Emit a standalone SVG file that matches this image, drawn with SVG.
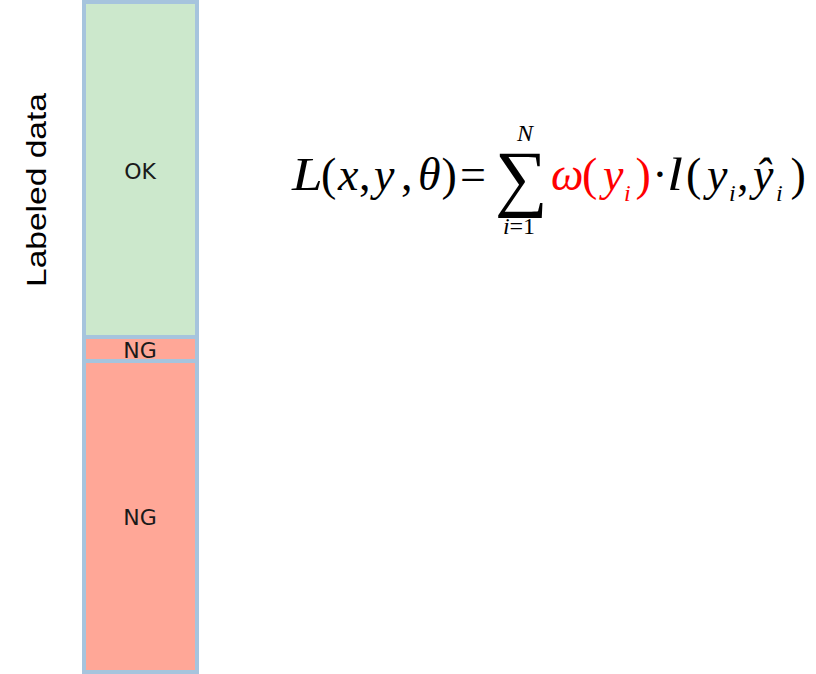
<svg xmlns="http://www.w3.org/2000/svg" width="816" height="674" viewBox="0 0 816 674">
<style>
.box{stroke:#a6c4dd;stroke-width:4}
.lbl{font-family:"DejaVu Sans",sans-serif;font-size:22px;fill:#1a1a1a;text-anchor:middle}
.m{font-family:"Liberation Serif",serif;font-style:italic;font-size:46px;fill:#000}
.p{font-family:"Liberation Serif",serif;font-size:46px;fill:#000}
.s{font-family:"Liberation Serif",serif;font-style:italic;font-size:24px;fill:#000}
.r{fill:#ff0000}
</style>
<rect width="816" height="674" fill="#fff"/>
<g id="ok">
<rect class="box" x="84" y="2" width="113" height="335" fill="#cce8cc"/>
<text class="lbl" x="140" y="179">OK</text>
</g>
<g id="ng-small">
<rect class="box" x="84" y="337" width="113" height="24" fill="#ffa797"/>
<text class="lbl" x="140" y="358">NG</text>
</g>
<g id="ng-big">
<rect class="box" x="84" y="361" width="113" height="311" fill="#ffa797"/>
<text class="lbl" x="140" y="525">NG</text>
</g>
<g id="axis-label">
<text x="0" y="0" transform="translate(46,190) rotate(-90)" text-anchor="middle" font-family="Liberation Sans, Arial, sans-serif" font-size="28" textLength="194" lengthAdjust="spacingAndGlyphs" fill="#000">Labeled data</text>
</g>
<g id="formula">
<text class="m" x="0" y="0" font-size="44" transform="translate(292,190) scale(1.2,1)">L</text>
<text class="p" x="321" y="190">(</text>
<text class="m" x="338" y="190">x</text>
<text class="p" x="359" y="190">,</text>
<text class="m" x="374" y="190">y</text>
<text class="p" x="401" y="190">,</text>
<text class="m" x="418" y="190">θ</text>
<text class="p" x="441.5" y="190">)</text>
<text class="p" x="460" y="190" font-size="52">=</text>
<text x="495" y="202" font-family="Liberation Serif, serif" font-size="74" fill="#000">∑</text>
<text class="s" x="525" y="141" text-anchor="middle">N</text>
<text class="s" x="519" y="234" text-anchor="middle" font-size="25"><tspan>i</tspan><tspan font-style="normal">=1</tspan></text>
<text class="m r" x="551" y="190" font-size="42">ω</text>
<text class="p r" x="582" y="190">(</text>
<text class="m r" x="603" y="190">y</text>
<text class="s r" x="624" y="201">i</text>
<text class="p r" x="635.5" y="190">)</text>
<text class="p" x="660" y="190" text-anchor="middle">·</text>
<text class="m" x="0" y="0" transform="translate(667,190) scale(1.25,1)">l</text>
<text class="p" x="686" y="190">(</text>
<text class="m" x="707" y="190">y</text>
<text class="s" x="729" y="201">i</text>
<text class="p" x="737" y="190">,</text>
<text class="m" x="753" y="190">ŷ</text>
<text class="s" x="776" y="201">i</text>
<text class="p" x="790.5" y="190">)</text>
</g>
</svg>
